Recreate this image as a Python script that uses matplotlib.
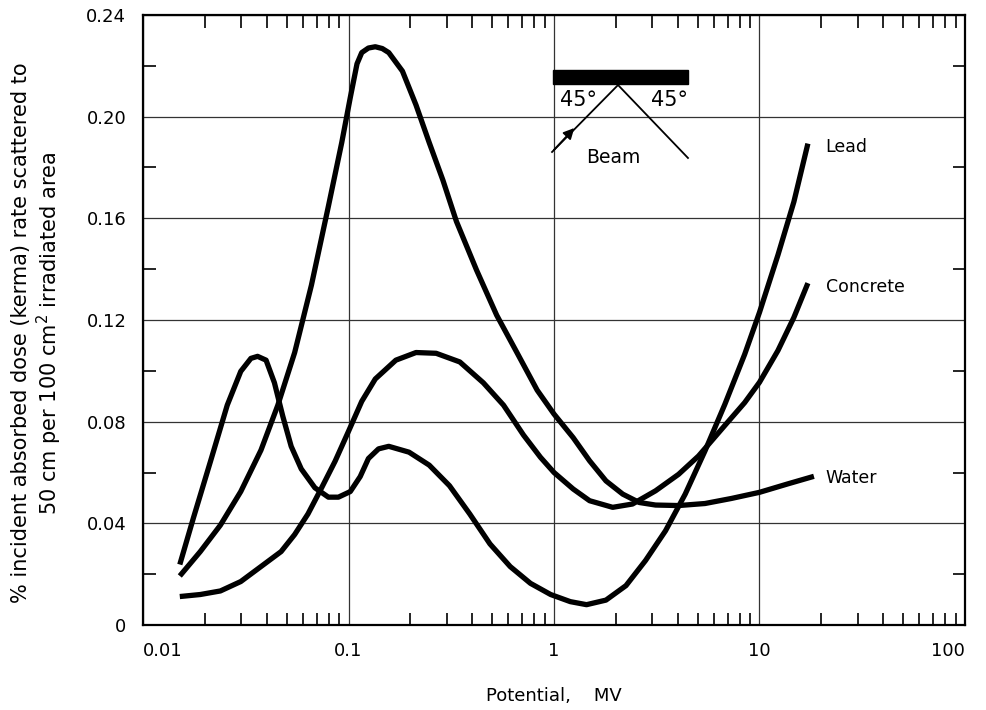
import numpy as np
import matplotlib
matplotlib.use("Agg")
import matplotlib.pyplot as plt
from matplotlib.patches import Rectangle
from matplotlib.ticker import FixedLocator, FixedFormatter, NullFormatter

# values: potential (MV) vs % scattered dose rate
lead_x = [0.0151, 0.0176, 0.0213, 0.0257, 0.0299, 0.0335, 0.0361, 0.0397, 0.0436, 0.0479, 0.0526,
          0.0589, 0.0686, 0.0798, 0.0893, 0.102, 0.114, 0.125, 0.140, 0.157, 0.197, 0.247, 0.310,
          0.389, 0.488, 0.612, 0.768, 0.963, 1.2, 1.44, 1.79, 2.24, 2.79, 3.49, 4.35, 5.43, 6.78,
          8.47, 10.0, 12.3, 14.7, 17.2]
lead_y = [0.0238, 0.0422, 0.0644, 0.0865, 0.0998, 0.1049, 0.1057, 0.1042, 0.0953, 0.0821, 0.0703,
          0.0614, 0.054, 0.0503, 0.0503, 0.0525, 0.0584, 0.0655, 0.0693, 0.0703, 0.068, 0.0629, 0.0548,
          0.0437, 0.0319, 0.023, 0.0164, 0.012, 0.0092, 0.008, 0.0098, 0.0155, 0.0254, 0.0371, 0.0515, 0.0685, 0.0868,
          0.1065, 0.123, 0.1456, 0.1665, 0.1894]

water_x = [0.0151, 0.019, 0.0238, 0.0299, 0.0375, 0.0453, 0.0547, 0.066, 0.0798, 0.0927, 0.102,
           0.110, 0.116, 0.125, 0.135, 0.146, 0.157, 0.183, 0.213, 0.247, 0.288, 0.335, 0.42,
           0.526, 0.66, 0.828, 1.0, 1.24, 1.49, 1.79, 2.16, 2.6, 3.12, 4.04, 5.43, 7.31, 10.0,
           13.7, 18.4]
water_y = [0.0193, 0.0289, 0.0393, 0.0525, 0.0688, 0.0865, 0.1072, 0.1337, 0.1647, 0.1898, 0.2075,
           0.2208, 0.2252, 0.227, 0.2275, 0.2268, 0.2252, 0.2179, 0.2046, 0.1898, 0.175, 0.1588, 0.1396,
           0.1219, 0.1072, 0.0924, 0.083, 0.0737, 0.0646, 0.0567, 0.0515, 0.0482, 0.0472, 0.047, 0.0478, 0.0498, 0.0522,
           0.0555, 0.0585]

concrete_x = [0.0151, 0.019, 0.0238, 0.0299, 0.0375, 0.047, 0.0547, 0.0635, 0.074, 0.086, 0.1,
              0.116, 0.135, 0.170, 0.213, 0.267, 0.348, 0.453, 0.568, 0.711, 0.859, 1.0, 1.24,
              1.49, 1.93, 2.41, 3.12, 4.04, 5.05, 6.78, 8.47, 10.0, 12.3, 14.7, 17.2]
concrete_y = [0.0112, 0.012, 0.0134, 0.0171, 0.023, 0.0289, 0.0356, 0.0437, 0.054, 0.0644, 0.0762,
              0.088, 0.0968, 0.1042, 0.1072, 0.1069, 0.1035, 0.0953, 0.0865, 0.0747, 0.066, 0.060, 0.0535,
              0.0489, 0.0463, 0.0476, 0.0528, 0.0593, 0.0665, 0.0785, 0.0875, 0.0955, 0.108, 0.121, 0.1345]

curve_labels = ["Lead", "Concrete", "Water"]
label_y = [0.188, 0.133, 0.058]

xticks = [0.01, 0.1, 1, 10, 100]
xticklabels = ["0.01", "0.1", "1", "10", "100"]
yticks = [0, 0.04, 0.08, 0.12, 0.16, 0.20, 0.24]
yticklabels = ["0", "0.04", "0.08", "0.12", "0.16", "0.20", "0.24"]

plt.rcParams["font.family"] = ["DejaVu Sans"]
fig = plt.figure(figsize=(9.87, 7.10), dpi=100)
ax = fig.add_axes([0.1449, 0.1197, 0.8328, 0.8592])

for xs, ys in [(lead_x, lead_y), (water_x, water_y), (concrete_x, concrete_y)]:
    ax.plot(xs, ys, color="black", lw=3.8, solid_capstyle="butt", solid_joinstyle="round", zorder=3)

ax.set_xscale("log")
ax.set_xlim(0.01, 100)
ax.set_ylim(0, 0.24)

ax.xaxis.set_major_locator(FixedLocator(xticks))
ax.xaxis.set_major_formatter(FixedFormatter(xticklabels))
ax.xaxis.set_minor_locator(FixedLocator([m * d for d in [0.01, 0.1, 1, 10] for m in range(2, 10)]))
ax.xaxis.set_minor_formatter(NullFormatter())
ax.yaxis.set_major_locator(FixedLocator(yticks))
ax.yaxis.set_major_formatter(FixedFormatter(yticklabels))
ax.yaxis.set_minor_locator(FixedLocator([0.02, 0.06, 0.10, 0.14, 0.18, 0.22]))

ax.tick_params(which="both", direction="in", top=True, right=True, width=1.2, colors="black")
ax.tick_params(which="major", length=0, pad=12, labelsize=13)
ax.tick_params(which="minor", length=9)
ax.grid(True, which="major", color="#333333", lw=0.9)
for s in ax.spines.values():
    s.set_linewidth(1.6)

# hand-lettered end labels sit inside the frame
xt = ax.get_xticklabels()
xt[0].set_horizontalalignment("left"); xt[0].set_x(0.0092)
xt[-1].set_horizontalalignment("right")

for lab, yv in zip(curve_labels, label_y):
    ax.text(21, yv, lab, fontsize=12.5, ha="left", va="center")

# inset sketch of the geometry
T = ax.transAxes
ax.add_patch(Rectangle((0.499, 0.887), 0.164, 0.023, transform=T, color="black", zorder=4))
ax.plot([0.4976, 0.5779, 0.663], [0.7754, 0.8852, 0.7656], transform=T, color="black", lw=1.3, zorder=4)
ax.annotate("", xy=(0.527, 0.818), xytext=(0.4976, 0.7754), xycoords=T, textcoords=T,
            arrowprops=dict(arrowstyle="-|>", color="black", lw=1.3, mutation_scale=16), zorder=4)
ax.text(0.530, 0.860, "45°", transform=T, fontsize=15, ha="center", va="center")
ax.text(0.641, 0.860, "45°", transform=T, fontsize=15, ha="center", va="center")
ax.text(0.5718, 0.766, "Beam", transform=T, fontsize=13.5, ha="center", va="center")

ax.set_xlabel("Potential,    MV", fontsize=13, labelpad=20)
fig.text(0.038, 0.531, "% incident absorbed dose (kerma) rate scattered to\n50 cm per 100 cm$^2$ irradiated area",
         rotation=90, ha="center", va="center", fontsize=15, linespacing=1.2, multialignment="center")

fig.savefig("out.png", dpi=100)
